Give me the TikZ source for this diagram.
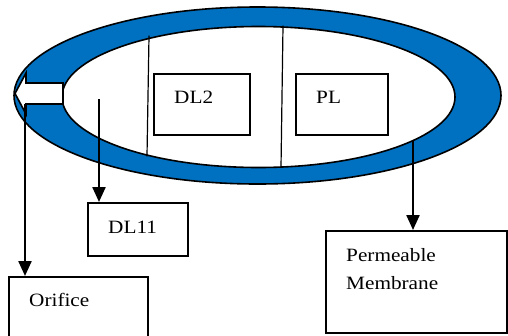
\documentclass[tikz,border=0pt]{standalone}
\usepackage{fontspec}
\setmainfont{Liberation Serif}[FakeStretch=1.13]
\usepackage[dvipsnames,svgnames]{xcolor}
\usepackage{tkz-euclide}
\usetikzlibrary{arrows.meta}
\definecolor{ringblue}{HTML}{0070C0}
\tikzset{
  ring/.style={draw=black,line width=1.6pt},
  cell/.style={draw=black,line width=1.6pt,inner sep=0pt,anchor=north west},
  tag/.style={font=\fontsize{18.8}{28}\selectfont,inner sep=0pt,align=left},
  flow/.style={line width=2.3pt,-{Triangle[length=15pt,width=13pt]}}
}
\begin{document}
\begin{tikzpicture}[x=1pt,y=-1pt]
 \useasboundingbox (0,0) rectangle (508,335);
 % blue ring and inner chamber
 \draw[ring,fill=ringblue] (257.5,95.5) ellipse [x radius=243.5,y radius=88.5];
 \draw[ring,fill=white] (258.5,97) ellipse [x radius=196.5,y radius=70.5];
 \tkzDefPoints{149/36/W_1,147/156/W_2,283/26/W_3,281/167.5/W_4}
 \tkzDrawSegments[line width=1.2pt](W_1,W_2 W_3,W_4)
 % boxes
 \node[cell,minimum width=96pt,minimum height=61pt] (dl2) at (153,73) {};
 \node[cell,minimum width=92pt,minimum height=61pt] (pl) at (295,73) {};
 \node[cell,minimum width=100pt,minimum height=53pt] (dl11) at (87,202) {};
 \node[cell,minimum width=139pt,minimum height=70pt] (orif) at (8,276) {};
 \node[cell,minimum width=181pt,minimum height=102pt] (memb) at (325,230) {};
 % labels
 \node[tag,anchor=base west] (dl2t) at ([shift={(21,30)}]dl2.north west) {DL2};
 \node[tag,anchor=base west] (plt) at ([shift={(21,30)}]pl.north west) {PL};
 \node[tag,anchor=base west] (dl11t) at ([shift={(21,31)}]dl11.north west) {DL11};
 \node[tag,anchor=base west] (orift) at ([shift={(21,30)}]orif.north west) {Orifice};
 \node[tag,anchor=north west] (membt) at ([shift={(21,18.2)}]memb.north west)
   {Permeable\\Membrane};
 % white outlet arrow
 \draw[ring,fill=white] (63,83) -- (26,83) -- (26,73) -- (15,93.5)
   -- (26,114) -- (26,104) -- (63,104) -- cycle;
 % connectors
 \tkzDefPoints{99/99/S_1,25/104/S_2,413/140.5/S_3}
 \draw[flow] (S_1) -- (S_1 |- dl11.north);
 \draw[flow] (S_2) -- (S_2 |- orif.north);
 \draw[flow] (S_3) -- (S_3 |- memb.north);
\end{tikzpicture}
\end{document}
